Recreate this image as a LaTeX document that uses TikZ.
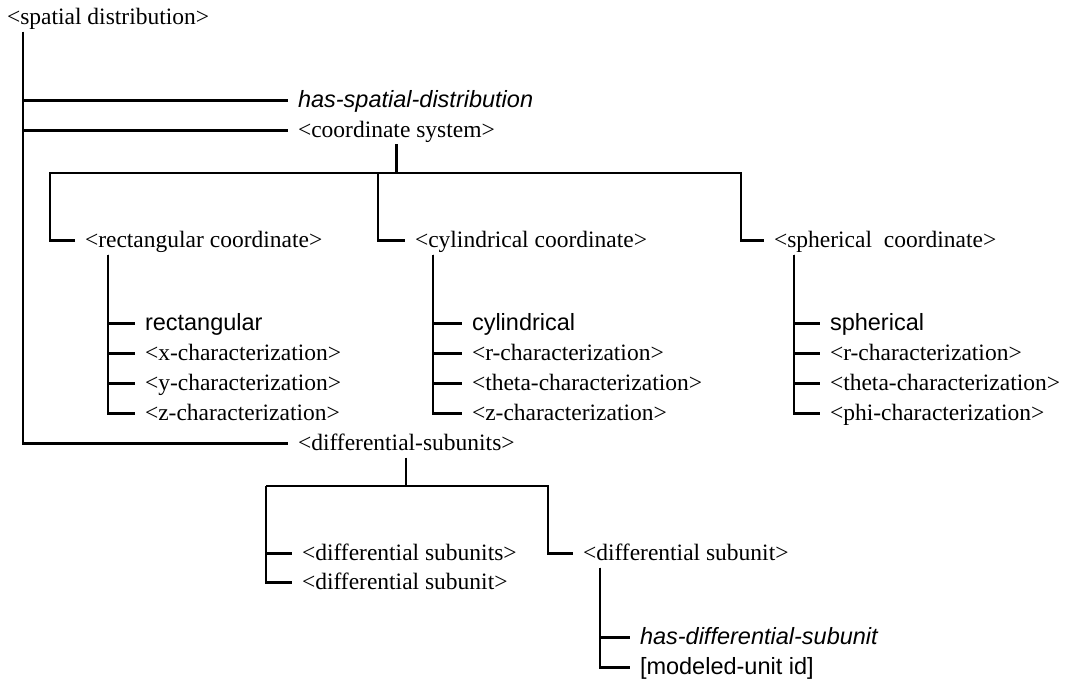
\documentclass[tikz,border=0pt]{standalone}
\usepackage{fontspec}
\setmainfont{Liberation Serif}
\setsansfont{Liberation Sans}
\usepackage{tikz}

\begin{document}
\begin{tikzpicture}[x=1pt, y=-1pt, line width=2.3pt,
  lbl/.style={anchor=base west, inner sep=0pt, outer xsep=10pt, outer ysep=2pt,
    text height=19pt, text depth=5pt, font=\fontsize{23.5}{28}\selectfont},
  sanslbl/.style={lbl, font=\fontsize{23.5}{28}\selectfont\sffamily},
  slantlbl/.style={lbl, font=\fontsize{23.5}{28}\selectfont\sffamily\itshape}]
\useasboundingbox (0,0) rectangle (1068,679);

% top level
\node[lbl] (sd) at (-3,25) {<spatial distribution>};
\node[slantlbl] (hsd) at (288,107.5) {has-spatial-distribution};
\node[lbl] (cs) at (288,137.5) {<coordinate system>};
\node[lbl] (ds) at (288,450.5) {<differential-subunits>};
\draw ([xshift=26pt]sd.south west) |- (ds.west);
\draw ([xshift=26pt]sd.south west) |- (hsd.west);
\draw ([xshift=26pt]sd.south west) |- (cs.west);

% coordinate systems
\node[lbl] (rc) at (75,247.5) {<rectangular coordinate>};
\node[lbl] (cc) at (405,247.5) {<cylindrical coordinate>};
\node[lbl] (sc) at (764,247.5) {<spherical\ \ coordinate>};
\coordinate (csbarL) at (50,173);
\coordinate (csbarM) at (378,173);
\coordinate (csbarR) at (741,173);
\draw (cs.south) -- (cs.south |- csbarL);
\draw (rc.west) -| (csbarL) -- (csbarR) |- (sc.west);
\draw (csbarM) |- (cc.west);

\node[sanslbl] (rc1) at (135,330.5) {rectangular};
\node[lbl] (rc2) at (135,360.5) {<x-characterization>};
\node[lbl] (rc3) at (135,390.5) {<y-characterization>};
\node[lbl] (rc4) at (135,420.5) {<z-characterization>};
\foreach \n in {rc1,rc2,rc3,rc4}
    \draw ([xshift=33pt]rc.south west) |- (\n.west);

\node[sanslbl] (cc1) at (462,330.5) {cylindrical};
\node[lbl] (cc2) at (462,360.5) {<r-characterization>};
\node[lbl] (cc3) at (462,390.5) {<theta-characterization>};
\node[lbl] (cc4) at (462,420.5) {<z-characterization>};
\foreach \n in {cc1,cc2,cc3,cc4}
    \draw ([xshift=28pt]cc.south west) |- (\n.west);

\node[sanslbl] (sc1) at (820,330.5) {spherical};
\node[lbl] (sc2) at (820,360.5) {<r-characterization>};
\node[lbl] (sc3) at (820,390.5) {<theta-characterization>};
\node[lbl] (sc4) at (820,420.5) {<phi-characterization>};
\foreach \n in {sc1,sc2,sc3,sc4}
    \draw ([xshift=30pt]sc.south west) |- (\n.west);

% differential subunits
\node[lbl] (dss) at (292,560.5) {<differential subunits>};
\node[lbl] (dsa) at (292,589.5) {<differential subunit>};
\node[lbl] (dsb) at (573,560.5) {<differential subunit>};
\coordinate (dsbarL) at (266,486);
\coordinate (dsbarR) at (548,486);
\draw (ds.south) -- (ds.south |- dsbarL);
\draw (dsbarL) -- (dsbarR) |- (dsb.west);
\draw (dsbarL) |- (dss.west);
\draw (dsbarL) |- (dsa.west);

\node[slantlbl] (hds) at (630,644.5) {has-differential-subunit};
\node[sanslbl] (mu) at (630,674.5) {[modeled-unit id]};
\foreach \n in {hds,mu}
    \draw ([xshift=27pt]dsb.south west) |- (\n.west);
\end{tikzpicture}
\end{document}
